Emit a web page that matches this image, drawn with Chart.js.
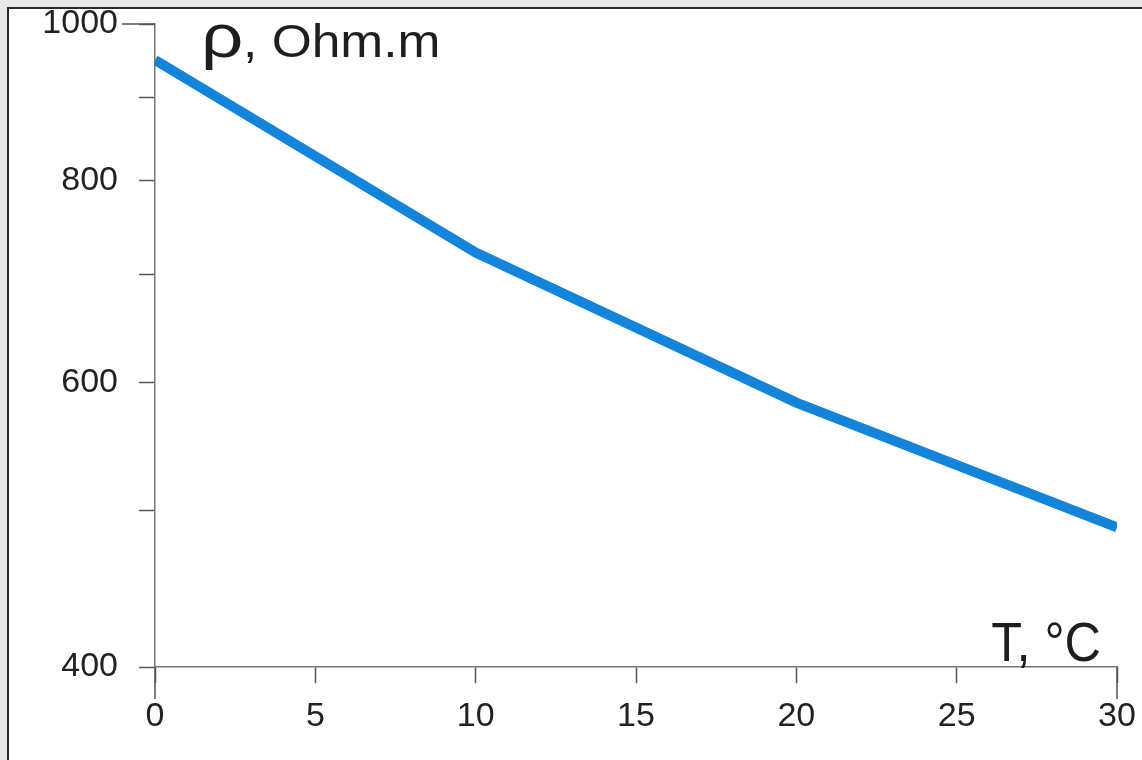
<!DOCTYPE html>
<html>
<head>
<meta charset="utf-8">
<script src="https://cdn.jsdelivr.net/npm/chart.js@4.4.1/dist/chart.umd.min.js"></script>
<style>
html, body { margin: 0; padding: 0; background: #e8e8e8; overflow: hidden; }
#frame { position: absolute; left: 7px; top: 7px; width: 1200px; height: 800px; background: #fff;
         border-left: 2px solid #2a2a2a; border-top: 2px solid #2a2a2a; }
#chart { position: absolute; left: 0; top: 0; }
</style>
</head>
<body>
<div id="frame"></div>
<canvas id="chart" width="1142" height="760"></canvas>
<script>
// temperature (°C) and resistivity (Ohm.m)
const temps = [0, 10, 20, 30];
const rho = [950, 722, 583, 488];
const xTicks = [0, 5, 10, 15, 20, 25, 30];
const yTicks = [400, 500, 600, 700, 800, 900, 1000];
const yLabels = [400, 600, 800, 1000];

const tickFont = { family: 'Liberation Sans', size: 34 };

// titles inside the plot and the longer end ticks
const extras = {
    id: 'extras',
    afterDraw(chart) {
        const { ctx, scales: { x, y } } = chart;
        ctx.save();
        ctx.strokeStyle = '#555';
        ctx.lineWidth = 1.5;
        ctx.beginPath();
        [0, 30].forEach(v => {
            const px = x.getPixelForValue(v);
            ctx.moveTo(px, y.bottom);
            ctx.lineTo(px, y.bottom + 32);
        });
        const py = y.getPixelForValue(1000);
        ctx.moveTo(x.left, py);
        ctx.lineTo(x.left - 33, py);
        ctx.stroke();

        ctx.fillStyle = '#1e1e1e';
        ctx.textBaseline = 'alphabetic';
        ctx.textAlign = 'left';
        // y title
        ctx.save();
        ctx.translate(x.left + 46, y.top + 33);
        ctx.scale(1.2, 1);
        ctx.font = '62px "Liberation Sans"';
        ctx.fillText('ρ', 0, 0);
        ctx.restore();
        ctx.save();
        ctx.translate(x.left + 88, y.top + 33);
        ctx.scale(1.12, 1);
        ctx.font = '46px "Liberation Sans"';
        ctx.fillText(', Ohm.m', 0, 0);
        ctx.restore();
        // x title
        ctx.save();
        ctx.translate(x.right - 16, y.bottom - 6);
        ctx.scale(0.9, 1);
        ctx.textAlign = 'right';
        ctx.font = '56px "Liberation Sans"';
        ctx.fillText('T, °C', 0, 0);
        ctx.restore();
        ctx.restore();
    }
};

new Chart(document.getElementById('chart'), {
    type: 'line',
    data: {
        datasets: [{
            data: temps.map((t, i) => ({ x: t, y: rho[i] })),
            borderColor: '#1284d9',
            borderWidth: 10,
            pointRadius: 0,
            tension: 0,
            fill: false
        }]
    },
    options: {
        responsive: false,
        animation: false,
        layout: { padding: { left: 0, top: 24, right: 25, bottom: 0 } },
        plugins: { legend: { display: false }, tooltip: { enabled: false } },
        scales: {
            x: {
                type: 'linear',
                min: 0,
                max: 30,
                afterBuildTicks: s => { s.ticks = xTicks.map(v => ({ value: v })); },
                afterFit: s => { s.height = 93; s.paddingLeft = 0; s.paddingRight = 0; },
                grid: { drawOnChartArea: false, drawTicks: true, tickLength: 16, tickColor: '#555', tickWidth: 1.5 },
                border: { color: '#777', width: 1.5 },
                ticks: { padding: 13, color: '#222', font: tickFont, maxRotation: 0, autoSkip: false }
            },
            y: {
                type: 'logarithmic',
                min: 400,
                max: 1000,
                afterBuildTicks: s => { s.ticks = yTicks.map(v => ({ value: v })); },
                afterFit: s => { s.width = 155; s.paddingTop = 0; s.paddingBottom = 0; },
                grid: { drawOnChartArea: false, drawTicks: true, tickLength: 16, tickColor: '#555', tickWidth: 1.5 },
                border: { color: '#777', width: 1.5 },
                ticks: {
                    padding: 21, color: '#222', font: tickFont, autoSkip: false,
                    callback: v => yLabels.includes(v) ? String(v) : ''
                }
            }
        }
    },
    plugins: [extras]
});
</script>
</body>
</html>
